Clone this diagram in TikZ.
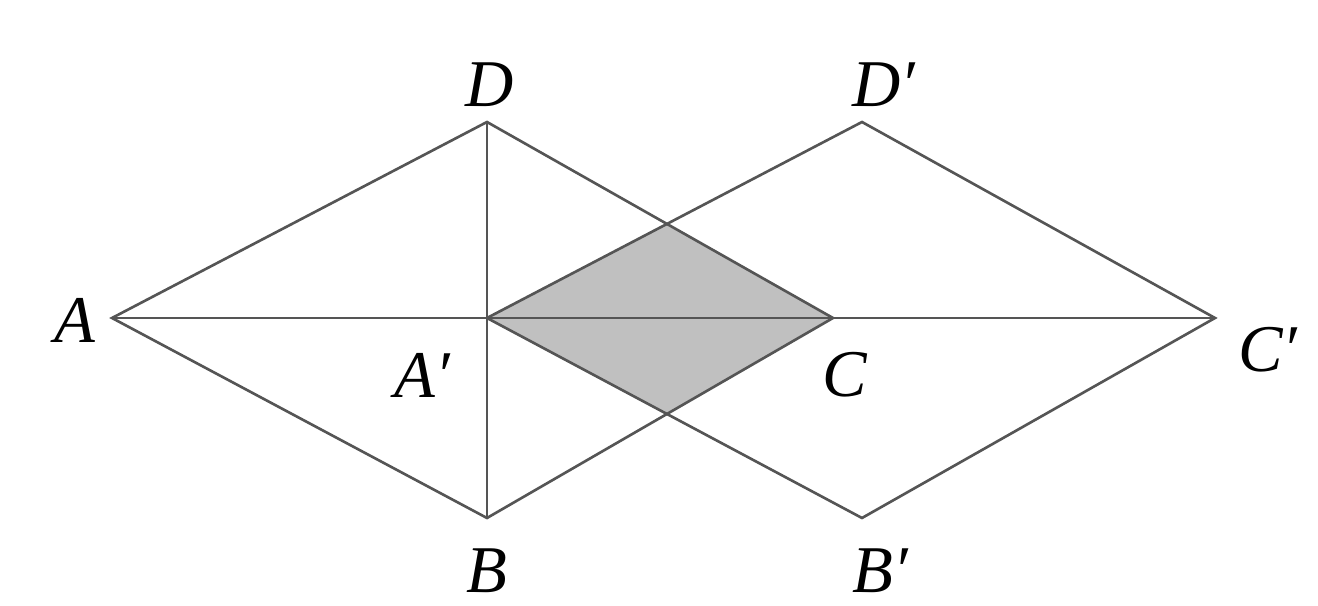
\documentclass[tikz,border=0pt]{standalone}
\usepackage{fontspec}
\setmainfont{Liberation Serif}
\usepackage{tikz}
\usetikzlibrary{calc}
\definecolor{lineg}{RGB}{85,85,85}
\definecolor{shadeg}{RGB}{192,192,192}

\begin{document}
\begin{tikzpicture}[
    edge/.style={draw=lineg, line width=0.75pt, line join=miter},
    vlabel/.style={font=\fontsize{19}{19}\selectfont\itshape, inner sep=0pt}]
    \useasboundingbox (0,0) rectangle (13.18,6.06);
    % first rhombus
    \coordinate (A) at (1.12,2.88);
    \coordinate (D) at (4.87,4.84);
    \coordinate (B) at (4.87,0.88);
    \coordinate (C) at (8.33,2.88);
    % translated rhombus
    \coordinate (Ap) at (4.87,2.88);
    \coordinate (Dp) at (8.62,4.84);
    \coordinate (Bp) at (8.62,0.88);
    \coordinate (Cp) at (12.15,2.88);
    \coordinate (P) at (intersection of D--C and Ap--Dp);
    \coordinate (Q) at (intersection of B--C and Ap--Bp);

    \fill[shadeg] (Ap) -- (P) -- (C) -- (Q) -- cycle;
    \draw[edge] (A) -- (D) -- (C) -- (B) -- cycle;
    \draw[edge] (Ap) -- (Dp) -- (Cp) -- (Bp) -- cycle;
    \draw[edge] (A) -- (Cp);
    \draw[edge] (D) -- (B);

    \node[vlabel] (lA)  at (0.75,2.86) {A};
    \node[vlabel] (lD)  at (4.90,5.21) {D};
    \node[vlabel] (lB)  at (4.87,0.35) {B};
    \node[vlabel] (lC)  at (8.45,2.31) {C};
    \node[vlabel] (lAp) at (4.22,2.31) {A′};
    \node[vlabel] (lDp) at (8.84,5.21) {D′};
    \node[vlabel] (lBp) at (8.80,0.35) {B′};
    \node[vlabel] (lCp) at (12.68,2.56) {C′};
\end{tikzpicture}
\end{document}
